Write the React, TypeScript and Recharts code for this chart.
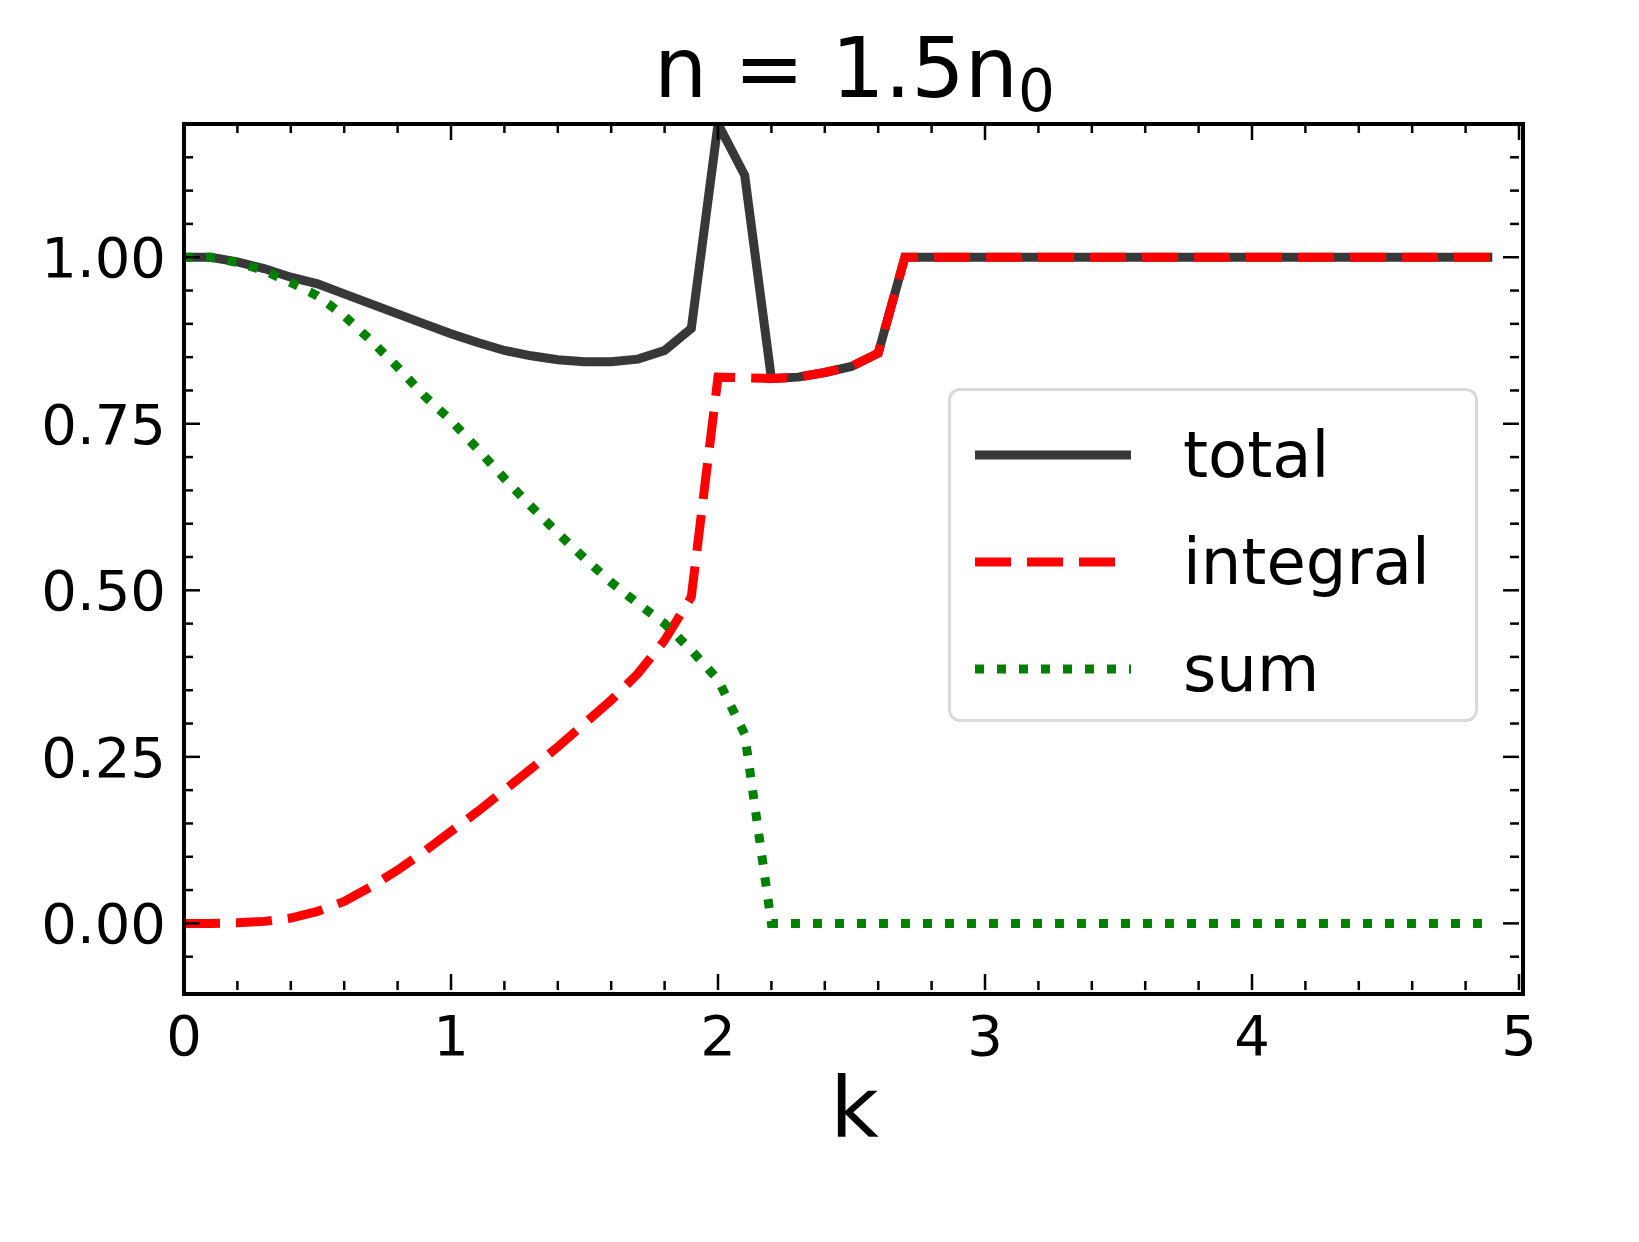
import { LineChart, Line, XAxis, YAxis } from 'recharts';

const kValues = [0, 0.1, 0.2, 0.3, 0.4, 0.5, 0.6, 0.7, 0.8, 0.9, 1.0, 1.1, 1.2, 1.3, 1.4, 1.5, 1.6, 1.7, 1.8, 1.9, 2.0, 2.1, 2.2, 2.3, 2.4, 2.5, 2.6, 2.7, 2.8, 2.9, 3.0, 3.1, 3.2, 3.3, 3.4, 3.5, 3.6, 3.7, 3.8, 3.9, 4.0, 4.1, 4.2, 4.3, 4.4, 4.5, 4.6, 4.7, 4.8, 4.9];
const totalValues = [1.0, 1.0, 0.993, 0.983, 0.97, 0.96, 0.945, 0.93, 0.915, 0.9, 0.885, 0.872, 0.86, 0.852, 0.846, 0.843, 0.843, 0.847, 0.86, 0.893, 1.2, 1.123, 0.818, 0.82, 0.827, 0.836, 0.856, 1.0, 1.0, 1.0, 1.0, 1.0, 1.0, 1.0, 1.0, 1.0, 1.0, 1.0, 1.0, 1.0, 1.0, 1.0, 1.0, 1.0, 1.0, 1.0, 1.0, 1.0, 1.0, 1.0];
const integralValues = [0, 0, 0.001, 0.003, 0.008, 0.018, 0.033, 0.055, 0.08, 0.108, 0.138, 0.168, 0.2, 0.232, 0.265, 0.3, 0.335, 0.375, 0.425, 0.49, 0.82, 0.819, 0.818, 0.82, 0.827, 0.836, 0.856, 1.0, 1.0, 1.0, 1.0, 1.0, 1.0, 1.0, 1.0, 1.0, 1.0, 1.0, 1.0, 1.0, 1.0, 1.0, 1.0, 1.0, 1.0, 1.0, 1.0, 1.0, 1.0, 1.0];
const sumValues = [1.0, 1.0, 0.992, 0.98, 0.962, 0.942, 0.912, 0.875, 0.835, 0.792, 0.755, 0.712, 0.668, 0.626, 0.586, 0.548, 0.512, 0.48, 0.45, 0.41, 0.366, 0.284, 0, 0, 0, 0, 0, 0, 0, 0, 0, 0, 0, 0, 0, 0, 0, 0, 0, 0, 0, 0, 0, 0, 0, 0, 0, 0, 0, 0];

const xTicks = [0, 0.2, 0.4, 0.6, 0.8, 1, 1.2, 1.4, 1.6, 1.8, 2, 2.2, 2.4, 2.6, 2.8, 3, 3.2, 3.4, 3.6, 3.8, 4, 4.2, 4.4, 4.6, 4.8, 5];
const yTicks = [-0.05, 0, 0.05, 0.1, 0.15, 0.2, 0.25, 0.3, 0.35, 0.4, 0.45, 0.5, 0.55, 0.6, 0.65, 0.7, 0.75, 0.8, 0.85, 0.9, 0.95, 1.0, 1.05, 1.1, 1.15];

const data = kValues.map((k, i) => ({
  k,
  total: totalValues[i],
  integral: integralValues[i],
  sum: sumValues[i],
}));

const LEFT = 184;
const RIGHT = 1519;
const TOP = 124;
const BOTTOM = 990;
const FONT = 'DejaVu Sans';

function isMajor(v: number, step: number) {
  return Math.abs(v / step - Math.round(v / step)) < 1e-6;
}

function renderXTick(props: any) {
  const { x, payload } = props;
  const major = isMajor(payload.value, 1);
  const len = major ? 16 : 9;
  return (
    <g key={`x-${payload.value}`}>
      <line x1={x} x2={x} y1={BOTTOM} y2={BOTTOM - len} stroke="#000" strokeWidth={2.5} />
      <line x1={x} x2={x} y1={TOP} y2={TOP + len} stroke="#000" strokeWidth={2.5} />
      {major && (
        <text x={x} y={1055} textAnchor="middle" fontSize={56} fontFamily={FONT} fill="#000">
          {payload.value}
        </text>
      )}
    </g>
  );
}

function renderYTick(props: any) {
  const { y, payload } = props;
  const major = isMajor(payload.value, 0.25);
  const len = major ? 16 : 9;
  return (
    <g key={`y-${payload.value}`}>
      <line x1={LEFT} x2={LEFT + len} y1={y} y2={y} stroke="#000" strokeWidth={2.5} />
      <line x1={RIGHT} x2={RIGHT - len} y1={y} y2={y} stroke="#000" strokeWidth={2.5} />
      {major && (
        <text x={166} y={y + 20} textAnchor="end" fontSize={56} fontFamily={FONT} fill="#000">
          {payload.value.toFixed(2)}
        </text>
      )}
    </g>
  );
}

const legendItems = [
  { label: 'total', color: '#383838', dash: undefined },
  { label: 'integral', color: '#ff0000', dash: '36 16' },
  { label: 'sum', color: '#008000', dash: '9 13' },
];

export default function App() {
  return (
    <div style={{ position: 'absolute', left: 0, top: 0, width: 1639, height: 1242, background: '#fff', fontFamily: FONT }}>
      <LineChart
        width={1639}
        height={1242}
        data={data}
        margin={{ top: TOP, left: LEFT - 2, right: 1639 - RIGHT, bottom: 1242 - BOTTOM - 2 }}
        style={{ overflow: 'visible' }}
      >
        <XAxis dataKey="k" type="number" domain={[0, 5]} ticks={xTicks} interval={0} height={2} axisLine={false} tickLine={false} tick={renderXTick} />
        <YAxis type="number" domain={[-0.1, 1.2]} ticks={yTicks} interval={0} width={2} axisLine={false} tickLine={false} tick={renderYTick} allowDataOverflow />
        <Line dataKey="total" stroke="#383838" strokeWidth={9} dot={false} type="linear" isAnimationActive={false} />
        <Line dataKey="integral" stroke="#ff0000" strokeWidth={9} strokeDasharray="36 16" dot={false} type="linear" isAnimationActive={false} />
        <Line dataKey="sum" stroke="#008000" strokeWidth={9} strokeDasharray="9 13" dot={false} type="linear" isAnimationActive={false} />
      </LineChart>
      <div style={{ position: 'absolute', left: LEFT - 2, top: TOP - 2, width: RIGHT - LEFT, height: BOTTOM - TOP, border: '4px solid #000', pointerEvents: 'none' }} />
      <div style={{ position: 'absolute', left: 0, width: 1639 + 70, top: 18, textAlign: 'center', fontSize: 84, lineHeight: '100px' }}>
        n = 1.5n<sub style={{ fontSize: 58, verticalAlign: '-14px' }}>0</sub>
      </div>
      <div style={{ position: 'absolute', left: 0, width: 1639 + 70, top: 1058, textAlign: 'center', fontSize: 84, lineHeight: '100px' }}>k</div>
      <div style={{ position: 'absolute', left: 948, top: 388, width: 530, height: 334, border: '3px solid #d9d9d9', borderRadius: 12, background: 'rgba(255,255,255,0.8)', boxSizing: 'border-box' }}>
        {legendItems.map((it) => (
          <div key={it.label} style={{ position: 'absolute', left: 22, top: 24 + legendItems.indexOf(it) * 107, height: 80, display: 'flex', alignItems: 'center' }}>
            <svg width={160} height={20}>
              <line x1={2} x2={158} y1={10} y2={10} stroke={it.color} strokeWidth={9} strokeDasharray={it.dash} />
            </svg>
            <span style={{ marginLeft: 50, fontSize: 64 }}>{it.label}</span>
          </div>
        ))}
      </div>
    </div>
  );
}
